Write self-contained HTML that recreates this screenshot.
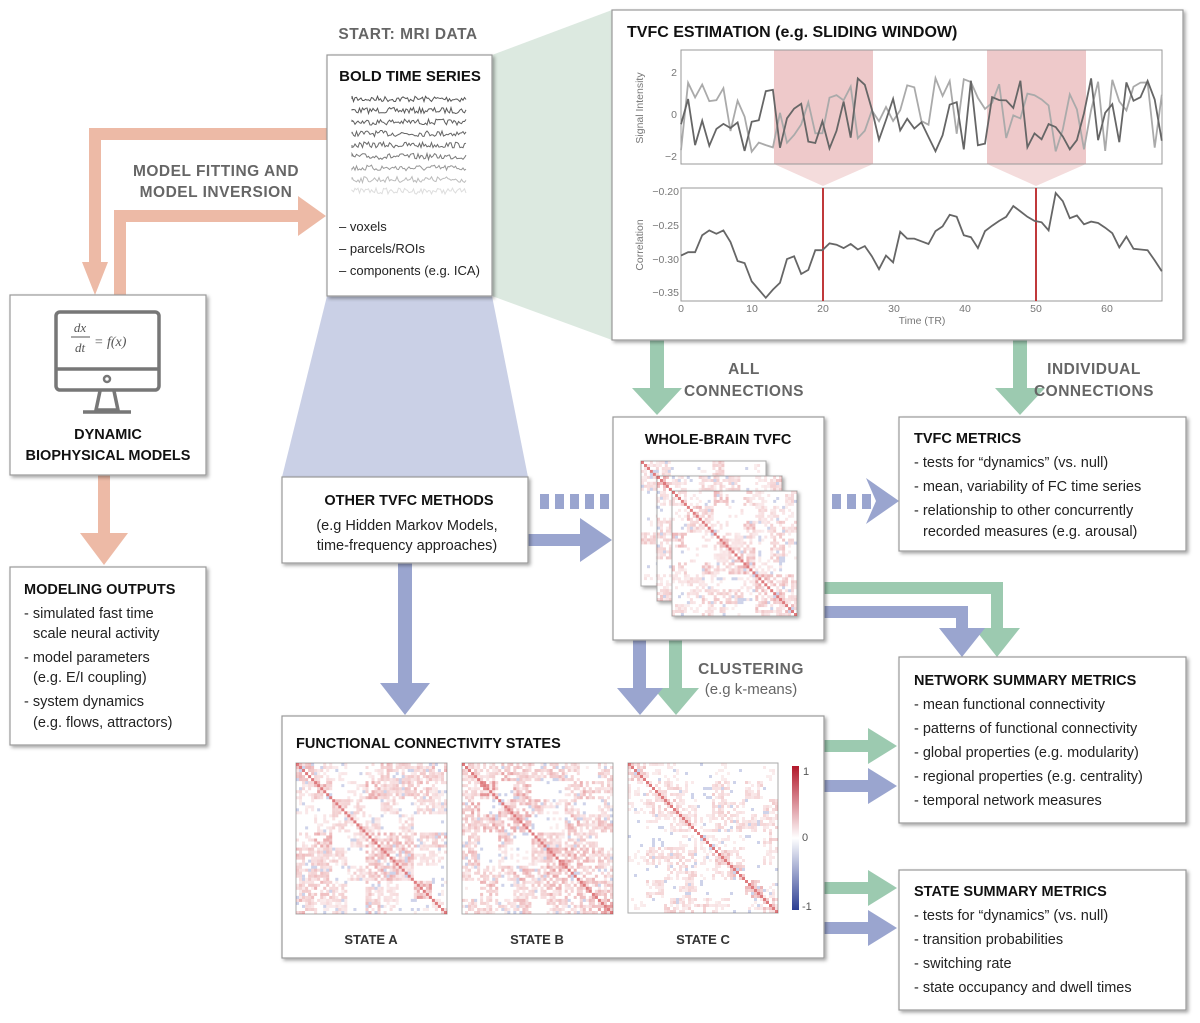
<!DOCTYPE html>
<html><head><meta charset="utf-8"><style>
body{margin:0;background:#fff;width:1200px;height:1023px;overflow:hidden}
svg{display:block}
text{font-family:"Liberation Sans",sans-serif}
.t{font-weight:bold;font-size:14.5px;fill:#111}
.b{font-size:14.5px;fill:#222}
.g{font-weight:bold;font-size:15.5px;fill:#666;letter-spacing:0.5px}
.box{fill:#fff;stroke:#999;stroke-width:1.2;filter:url(#sh)}
.ax{font-size:10.5px;fill:#777}
</style></head><body>
<svg id="s" width="1200" height="1023" viewBox="0 0 1200 1023">
<defs>
<filter id="sh" x="-5%" y="-5%" width="115%" height="115%"><feDropShadow dx="2" dy="2" stdDeviation="1.8" flood-color="#000" flood-opacity="0.35"/></filter>
</defs>
<polygon points="492,55 612,10 612,340 492,296" fill="#dce9e0"/>
<polygon points="327,296 492,296 528,477 282,477" fill="#cad0e6"/>

<g fill="#edbaa6">
<path d="M327,128 L327,140 L101,140 L101,262 L82,262 L95,295 L108,262 L89,262 L89,128 Z"/>
<path d="M114,295 L114,210 L298,210 L298,196 L326,216 L298,236 L298,222 L126,222 L126,295 Z"/>
<path d="M98,475 L110,475 L110,533 L128,533 L104,565 L80,533 L98,533 Z"/>
</g>
<g fill="#9ccab0">
<path d="M650,340 L664,340 L664,388 L682,388 L657,415 L632,388 L650,388 Z"/>
<path d="M1013,340 L1027,340 L1027,388 L1045,388 L1020,415 L995,388 L1013,388 Z"/>
<path d="M669,640 L682,640 L682,688 L699,688 L676,715 L653,688 L669,688 Z"/>
<path d="M824,582 L1003,582 L1003,628 L1020,628 L997,657 L974,628 L991,628 L991,594 L824,594 Z"/>
<path d="M824,740 L868,740 L868,728 L897,746 L868,764 L868,752 L824,752 Z"/>
<path d="M824,882 L868,882 L868,870 L897,888 L868,906 L868,894 L824,894 Z"/>
</g>
<g fill="#9aa5cf">
<path d="M633,640 L646,640 L646,688 L663,688 L640,715 L617,688 L633,688 Z"/>
<path d="M398,563 L412,563 L412,683 L430,683 L405,715 L380,683 L398,683 Z"/>
<path d="M824,606 L968,606 L968,628 L985,628 L962,657 L939,628 L956,628 L956,618 L824,618 Z"/>
<path d="M528,534 L580,534 L580,518 L612,540 L580,562 L580,546 L528,546 Z"/>
<path d="M824,780 L868,780 L868,768 L897,786 L868,804 L868,792 L824,792 Z"/>
<path d="M824,922 L868,922 L868,910 L897,928 L868,946 L868,934 L824,934 Z"/>
<rect x="540" y="494" width="9" height="15"/><rect x="555" y="494" width="9" height="15"/><rect x="570" y="494" width="9" height="15"/><rect x="585" y="494" width="9" height="15"/><rect x="600" y="494" width="9" height="15"/>
<rect x="832" y="494" width="9" height="15"/><rect x="847" y="494" width="9" height="15"/><rect x="862" y="494" width="9" height="15"/>
<path d="M866,478 L899,501 L866,524 L876,501 Z"/>
</g>

<text class="g" x="408" y="39" text-anchor="middle">START: MRI DATA</text>
<text class="g" x="216" y="176" text-anchor="middle">MODEL FITTING AND</text>
<text class="g" x="216" y="197" text-anchor="middle">MODEL INVERSION</text>
<text class="g" x="744" y="374" text-anchor="middle">ALL</text>
<text class="g" x="744" y="396" text-anchor="middle">CONNECTIONS</text>
<text class="g" x="1094" y="374" text-anchor="middle">INDIVIDUAL</text>
<text class="g" x="1094" y="396" text-anchor="middle">CONNECTIONS</text>
<text class="g" x="751" y="674" text-anchor="middle">CLUSTERING</text>
<text x="751" y="694" text-anchor="middle" style="font-size:15px;fill:#666">(e.g k-means)</text>

<rect class="box" x="327" y="55" width="165" height="241"/>
<rect class="box" x="612" y="10" width="571" height="330"/>
<rect class="box" x="10" y="295" width="196" height="180"/>
<rect class="box" x="10" y="567" width="196" height="178"/>
<rect class="box" x="282" y="477" width="246" height="86"/>
<rect class="box" x="613" y="417" width="211" height="223"/>
<rect class="box" x="899" y="417" width="287" height="134"/>
<rect class="box" x="899" y="657" width="287" height="166"/>
<rect class="box" x="282" y="716" width="542" height="242"/>
<rect class="box" x="899" y="870" width="287" height="140"/>

<text class="t" x="410" y="81" text-anchor="middle" style="font-size:15px">BOLD TIME SERIES</text>
<g id="bold"></g>
<text class="b" x="339" y="231" style="font-size:13px">– voxels</text>
<text class="b" x="339" y="253" style="font-size:13px">– parcels/ROIs</text>
<text class="b" x="339" y="275" style="font-size:13px">– components (e.g. ICA)</text>

<text class="t" x="627" y="37" style="font-size:16px">TVFC ESTIMATION (e.g. SLIDING WINDOW)</text>
<rect x="774" y="50" width="99" height="114" fill="#eec9ca"/>
<rect x="987" y="50" width="99" height="114" fill="#eec9ca"/>
<polygon points="774,164 873,164 823,186" fill="#f4dcdc"/>
<polygon points="987,164 1086,164 1036,186" fill="#f4dcdc"/>
<rect x="681" y="50" width="481" height="114" fill="none" stroke="#999" stroke-width="1"/>
<rect x="681" y="188" width="481" height="113" fill="none" stroke="#999" stroke-width="1"/>
<line x1="823" y1="188" x2="823" y2="301" stroke="#c0393b" stroke-width="2"/>
<line x1="1036" y1="188" x2="1036" y2="301" stroke="#c0393b" stroke-width="2"/>
<g id="chart"></g>
<g class="ax">
<text x="677" y="76" text-anchor="end">2</text><text x="677" y="118" text-anchor="end">0</text><text x="677" y="160" text-anchor="end">−2</text>
<text x="679" y="195" text-anchor="end">−0.20</text><text x="679" y="229" text-anchor="end">−0.25</text><text x="679" y="263" text-anchor="end">−0.30</text><text x="679" y="296" text-anchor="end">−0.35</text>
<text x="681" y="312" text-anchor="middle">0</text><text x="752" y="312" text-anchor="middle">10</text><text x="823" y="312" text-anchor="middle">20</text><text x="894" y="312" text-anchor="middle">30</text><text x="965" y="312" text-anchor="middle">40</text><text x="1036" y="312" text-anchor="middle">50</text><text x="1107" y="312" text-anchor="middle">60</text>
<text x="922" y="324" text-anchor="middle">Time (TR)</text>
<text transform="translate(643,108) rotate(-90)" text-anchor="middle">Signal Intensity</text>
<text transform="translate(643,245) rotate(-90)" text-anchor="middle">Correlation</text>
</g>

<g fill="none" stroke="#777" stroke-width="3.5">
<rect x="56" y="312" width="103" height="78" rx="4"/>
<line x1="56" y1="369" x2="159" y2="369"/>
<circle cx="107" cy="379" r="3" stroke-width="2.5"/>
<path d="M100,391 L96,410 L118,410 L114,391"/>
<line x1="83" y1="412" x2="131" y2="412"/>
</g>
<text x="80" y="332" text-anchor="middle" style="font-family:'Liberation Serif',serif;font-style:italic;font-size:13px;fill:#555">dx</text>
<line x1="71" y1="337" x2="90" y2="337" stroke="#555" stroke-width="1"/>
<text x="80" y="352" text-anchor="middle" style="font-family:'Liberation Serif',serif;font-style:italic;font-size:13px;fill:#555">dt</text>
<text x="94" y="346" style="font-family:'Liberation Serif',serif;font-style:italic;font-size:14px;fill:#555">= f(x)</text>
<text class="t" x="108" y="439" text-anchor="middle">DYNAMIC</text>
<text class="t" x="108" y="460" text-anchor="middle">BIOPHYSICAL MODELS</text>

<text class="t" x="24" y="594">MODELING OUTPUTS</text>
<g class="b"><text x="24" y="618">- simulated fast time</text><text x="33" y="638">scale neural activity</text>
<text x="24" y="662">- model parameters</text><text x="33" y="682">(e.g. E/I coupling)</text>
<text x="24" y="706">- system dynamics</text><text x="33" y="727">(e.g. flows, attractors)</text></g>

<text class="t" x="409" y="505" text-anchor="middle">OTHER TVFC METHODS</text>
<text class="b" x="407" y="530" text-anchor="middle">(e.g Hidden Markov Models,</text>
<text class="b" x="407" y="550" text-anchor="middle">time-frequency approaches)</text>

<text class="t" x="718" y="444" text-anchor="middle">WHOLE-BRAIN TVFC</text>
<g id="wb"></g>

<text class="t" x="914" y="443">TVFC METRICS</text>
<g class="b"><text x="914" y="467">- tests for “dynamics” (vs. null)</text>
<text x="914" y="491">- mean, variability of FC time series</text>
<text x="914" y="515">- relationship to other concurrently</text>
<text x="923" y="536">recorded measures (e.g. arousal)</text></g>

<text class="t" x="914" y="685">NETWORK SUMMARY METRICS</text>
<g class="b"><text x="914" y="709">- mean functional connectivity</text>
<text x="914" y="733">- patterns of functional connectivity</text>
<text x="914" y="757">- global properties (e.g. modularity)</text>
<text x="914" y="781">- regional properties (e.g. centrality)</text>
<text x="914" y="805">- temporal network measures</text></g>

<text class="t" x="914" y="896">STATE SUMMARY METRICS</text>
<g class="b"><text x="914" y="920">- tests for “dynamics” (vs. null)</text>
<text x="914" y="944">- transition probabilities</text>
<text x="914" y="968">- switching rate</text>
<text x="914" y="992">- state occupancy and dwell times</text></g>

<text class="t" x="296" y="748">FUNCTIONAL CONNECTIVITY STATES</text>
<g id="fc"></g>
<defs><linearGradient id="cb" x1="0" y1="0" x2="0" y2="1"><stop offset="0" stop-color="#b2182b"/><stop offset="0.5" stop-color="#fff"/><stop offset="1" stop-color="#2c3e94"/></linearGradient></defs>
<rect x="792" y="766" width="7" height="144" fill="url(#cb)"/>
<g style="font-size:11px;fill:#555"><text x="803" y="775">1</text><text x="802" y="841">0</text><text x="802" y="910">-1</text></g>
<g class="b" style="font-size:13px;font-weight:bold;fill:#333"><text x="371" y="944" text-anchor="middle">STATE A</text><text x="537" y="944" text-anchor="middle">STATE B</text><text x="703" y="944" text-anchor="middle">STATE C</text></g>
</svg>
<script>
var NS="http://www.w3.org/2000/svg";
var seed=7;function r(){seed=(seed*16807)%2147483647;return seed/2147483647;}
function el(p,t,a){var e=document.createElementNS(NS,t);for(var k in a)e.setAttribute(k,a[k]);p.appendChild(e);return e;}
var bg=document.getElementById('bold');
var cols=['#555','#5a5a5a','#5f5f5f','#656565','#6a6a6a','#7a7a7a','#999','#bbb','#ddd'];
for(var i=0;i<9;i++){var y=99+i*11.5,d='M352,'+y;for(var x=352;x<=466;x+=1.5){d+=' L'+x+','+(y+(r()-0.5)*6).toFixed(1);}el(bg,'path',{d:d,fill:'none',stroke:cols[i],'stroke-width':1});}
var cg=document.getElementById('chart');
function ser(col,w){var d='';for(var t=0;t<=68;t++){var x=681+t*7.07;var v=(r()-0.5)*3.6;var y=114-v*21;y=Math.max(52,Math.min(162,y));d+=(t?' L':'M')+x.toFixed(1)+','+y.toFixed(1);}el(cg,'path',{d:d,fill:'none',stroke:col,'stroke-width':w});}
ser('#aaa',1.8);ser('#666',1.8);
var cv=[-0.295,-0.29,-0.29,-0.265,-0.258,-0.263,-0.258,-0.275,-0.303,-0.306,-0.333,-0.345,-0.357,-0.345,-0.335,-0.3,-0.296,-0.322,-0.316,-0.287,-0.287,-0.277,-0.279,-0.284,-0.278,-0.286,-0.281,-0.296,-0.315,-0.295,-0.305,-0.26,-0.27,-0.27,-0.274,-0.278,-0.259,-0.252,-0.235,-0.238,-0.265,-0.268,-0.284,-0.259,-0.251,-0.244,-0.238,-0.222,-0.23,-0.238,-0.244,-0.246,-0.258,-0.203,-0.215,-0.24,-0.236,-0.249,-0.245,-0.247,-0.254,-0.262,-0.283,-0.267,-0.285,-0.286,-0.287,-0.302,-0.318];
var d='';cv.forEach(function(v,t){var x=681+t*7.07;var y=191+(-0.2-v)/0.15*102;d+=(t?' L':'M')+x.toFixed(1)+','+y.toFixed(1);});
el(cg,'path',{d:d,fill:'none',stroke:'#666','stroke-width':1.8});
var blocks=[0,5,11,15,22,28,33,38,44,50];
function blk(i){for(var k=0;k<blocks.length-1;k++)if(i<blocks[k+1])return k;return 0;}
function mat(g,x0,y0,s,n,amp){el(g,'rect',{x:x0,y:y0,width:s,height:s,fill:'#fff',stroke:'#aaa','stroke-width':1});var c=s/n;var M=[];
var bs=[];for(var a=0;a<10;a++){bs[a]=[];for(var b=0;b<10;b++)bs[a][b]=(b<a?bs[b][a]:r());}
for(var i=0;i<n;i++){M[i]=[];for(var j=0;j<n;j++){if(j<i){M[i][j]=M[j][i];continue;}var bi=Math.floor(i*9/n),bj=Math.floor(j*9/n);var base=bs[bi][bj]*0.55+(bi==bj?0.25:0);var v=base*amp*(0.4+r()*0.9);if(r()<0.3)v*=0.2;if(r()<0.05)v=-0.25;if(i==j)v=0.75;M[i][j]=v;}}
for(var i=0;i<n;i++)for(var j=0;j<n;j++){var v=M[i][j];if(Math.abs(v)<0.1)continue;var col=v>0?'rgba(205,50,55,'+Math.min(0.8,v*0.85).toFixed(2)+')':'rgba(60,80,170,'+Math.min(0.4,-v).toFixed(2)+')';el(g,'rect',{x:(x0+j*c).toFixed(1),y:(y0+i*c).toFixed(1),width:c.toFixed(2),height:c.toFixed(2),fill:col});}}
var fc=document.getElementById('fc');
mat(fc,296,763,151,50,0.75);mat(fc,462,763,151,50,0.8);mat(fc,628,763,150,50,0.45);
var wb=document.getElementById('wb');
[[641,461],[657,476],[672,491]].forEach(function(p){var g=el(wb,'g',{filter:'url(#sh)'});mat(g,p[0],p[1],125,42,0.6);});
</script>
</body></html>
